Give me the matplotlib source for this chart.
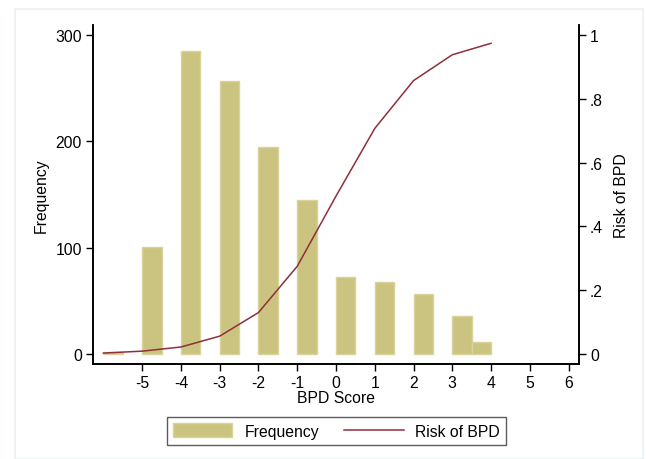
import numpy as np
import matplotlib
matplotlib.use("Agg")
from matplotlib import pyplot as plt
import matplotlib.patches as patches

plt.rcParams['font.family'] = ['Liberation Sans', 'DejaVu Sans']

# histogram bins (left edges, width 0.5) and counts
bin_left = [-6, -5, -4, -3, -2, -1, 0, 1, 2, 3, 3.5]
freq = [1.5, 101, 285, 257, 195, 145, 72, 68, 56, 36, 11]

# predicted risk by score
score = [-6, -5, -4, -3, -2, -1, 0, 1, 2, 3, 4]
risk = [0.003, 0.009, 0.022, 0.056, 0.13, 0.275, 0.495, 0.707, 0.857, 0.938, 0.974]

xticks = [-5, -4, -3, -2, -1, 0, 1, 2, 3, 4, 5, 6]
yticks_left = [0, 100, 200, 300]
yticks_right = [0, 0.2, 0.4, 0.6, 0.8, 1]
yticklabels_right = ['0', '.2', '.4', '.6', '.8', '1']

bar_face = '#CBC480'
bar_edge = '#D9D399'
line_col = '#8E2F3C'
fs = 11.3

fig = plt.figure(figsize=(6.46, 4.6), dpi=100)
# faint outer frame like the Stata graph region
fig.patches.append(patches.Rectangle((15/646, 0), 628/646, 1 - 10/460, transform=fig.transFigure,
                                     fill=False, edgecolor='#EBF1F1', linewidth=1.2))

ax = fig.add_axes([93/646, 1 - 365/460, (579 - 93)/646, (365 - 26)/460])
ax.bar(bin_left, freq, width=0.5, align='edge', color=bar_face, edgecolor=bar_edge, linewidth=1.0,
       label='Frequency', zorder=2)
ax.set_xlim(-6.27, 6.27)
ax.set_ylim(-9.4, 309.4)
ax.set_xticks(xticks)
ax.set_xticklabels([str(t) for t in xticks])
ax.set_yticks(yticks_left)
ax.set_ylabel('Frequency', fontsize=fs, labelpad=5)
ax.set_xlabel('BPD Score', fontsize=fs, labelpad=0)

ax2 = ax.twinx()
ax2.plot(score, risk, color=line_col, linewidth=1.1, label='Risk of BPD', zorder=3)
ax2.set_ylim(-0.0313, 1.0313)
ax2.set_yticks(yticks_right)
ax2.set_yticklabels(yticklabels_right)
ax2.set_ylabel('Risk of BPD', fontsize=fs, labelpad=8)

for a in (ax, ax2):
    a.spines['top'].set_visible(False)
    for s in ('left', 'right', 'bottom'):
        a.spines[s].set_linewidth(1.2)
        a.spines[s].set_color('black')
    a.tick_params(length=5, width=1.0, labelsize=fs, pad=3)

h1, l1 = ax.get_legend_handles_labels()
h2, l2 = ax2.get_legend_handles_labels()
leg = fig.legend(h1 + h2, l1 + l2, loc='center', bbox_to_anchor=(336.5/646, 1 - 432/460), ncol=2,
                 fontsize=fs, frameon=True, fancybox=False, handlelength=3.8, handleheight=1.0,
                 columnspacing=1.6, borderpad=0.4, handletextpad=0.75)
leg.get_frame().set_edgecolor('#333333')
leg.get_frame().set_linewidth(1.0)

fig.savefig('out.png', dpi=100)
